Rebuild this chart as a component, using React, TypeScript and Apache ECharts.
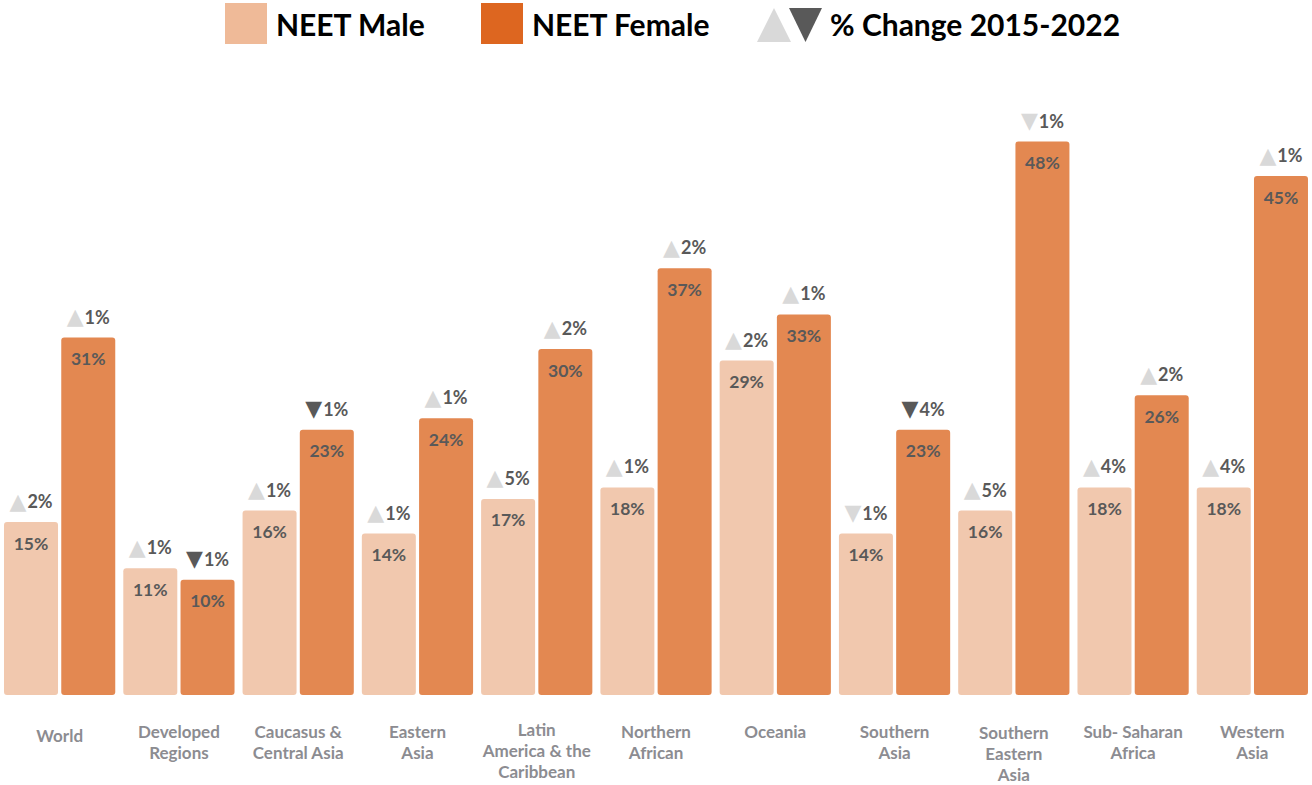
import React, { useEffect, useRef } from "react";
import * as echarts from "echarts";

const categories = [
  "World",
  "Developed\nRegions",
  "Caucasus &\nCentral Asia",
  "Eastern\nAsia",
  "Latin\nAmerica & the\nCaribbean",
  "Northern\nAfrican",
  "Oceania",
  "Southern\nAsia",
  "Southern\nEastern\nAsia",
  "Sub- Saharan\nAfrica",
  "Western\nAsia",
];
const maleValues = [15, 11, 16, 14, 17, 18, 29, 14, 16, 18, 18];
const femaleValues = [31, 10, 23, 24, 30, 37, 33, 23, 48, 26, 45];
const maleChangeDir = ["up", "up", "up", "up", "up", "up", "up", "downLight", "up", "up", "up"];
const maleChangePct = [2, 1, 1, 1, 5, 1, 2, 1, 5, 4, 4];
const femaleChangeDir = ["up", "down", "down", "up", "up", "up", "up", "down", "downLight", "up", "up"];
const femaleChangePct = [1, 1, 1, 1, 2, 2, 1, 4, 1, 2, 1];

const MALE = "#F1C8AE";
const FEMALE = "#E38851";
const LEG_MALE = "#EFBA98";
const LEG_FEMALE = "#DD6620";
const LIGHT = "#D9D9D9";
const DARK = "#595959";
const FONT = "Lato, 'Noto Sans', sans-serif";

// small per-label vertical nudges (px) for the category labels
const labelNudge: Record<string, number> = {
  World: 6,
  "Latin\nAmerica & the\nCaribbean": 0,
  "Southern\nEastern\nAsia": 3,
};

function changeLabel(dirs: string[], pcts: number[]) {
  return {
    show: true,
    position: "top",
    distance: 10,
    formatter: (p: any) => {
      const d = dirs[p.dataIndex];
      const key = d === "up" ? "up" : d === "down" ? "dn" : "dl";
      const glyph = d === "up" ? "▲" : "▼";
      return `{${key}|${glyph}}{v|${pcts[p.dataIndex]}%}`;
    },
    rich: {
      up: { fontFamily: "'DejaVu Sans'", fontSize: 22, color: LIGHT, padding: [0, 1, 0, 0] },
      dn: { fontFamily: "'DejaVu Sans'", fontSize: 22, color: DARK, padding: [0, 1, 0, 0] },
      dl: { fontFamily: "'DejaVu Sans'", fontSize: 22, color: LIGHT, padding: [0, 1, 0, 0] },
      v: { fontFamily: FONT, fontSize: 18, fontWeight: "bold", color: "#595959" },
    },
  };
}

const valueLabel = {
  show: true,
  position: "insideTop",
  distance: 12,
  formatter: "{c}%",
  fontFamily: FONT,
  fontSize: 17.5,
  fontWeight: "bold",
  color: "#595959",
};

export default function App() {
  const ref = useRef<HTMLDivElement>(null);
  useEffect(() => {
    if (!ref.current) return;
    const chart = echarts.init(ref.current, undefined, { renderer: "svg" });
    const zeros = categories.map(() => 0);
    chart.setOption({
      animation: false,
      grid: { left: -1, right: -4, top: 100, bottom: 80, containLabel: false },
      xAxis: {
        type: "category",
        data: categories.map((c) => ({
          value: c,
          textStyle: { padding: [labelNudge[c] ?? 2, 0, 0, 0] },
        })),
        axisLine: { show: false },
        axisTick: { show: false },
        axisLabel: {
          interval: 0,
          margin: 24,
          verticalAlign: "top",
          lineHeight: 21,
          fontFamily: FONT,
          fontSize: 17,
          fontWeight: "bold",
          color: "#8C8C91",
        },
      },
      yAxis: {
        type: "value",
        min: 0,
        max: 51.6,
        show: false,
        splitLine: { show: false },
      },
      series: [
        {
          name: "NEET Male",
          type: "bar",
          stack: "m",
          data: maleValues,
          barWidth: 54,
          barGap: "6%",
          itemStyle: { color: MALE, borderRadius: 3 },
          label: valueLabel,
        },
        {
          name: "NEET Female",
          type: "bar",
          stack: "f",
          data: femaleValues,
          barWidth: 54,
          barGap: "6%",
          itemStyle: { color: FEMALE, borderRadius: 3 },
          label: valueLabel,
        },
        {
          name: "maleChange",
          type: "bar",
          stack: "m",
          data: zeros,
          barWidth: 54,
          barGap: "6%",
          itemStyle: { color: "rgba(0,0,0,0)" },
          label: changeLabel(maleChangeDir, maleChangePct),
        },
        {
          name: "femaleChange",
          type: "bar",
          stack: "f",
          data: zeros,
          barWidth: 54,
          barGap: "6%",
          itemStyle: { color: "rgba(0,0,0,0)" },
          label: changeLabel(femaleChangeDir, femaleChangePct),
        },
      ],
      graphic: [
        { type: "rect", shape: { x: 225, y: 3, width: 42, height: 41 }, style: { fill: LEG_MALE } },
        {
          type: "text",
          x: 276,
          y: 24,
          style: { text: "NEET Male", font: `bold 30px ${FONT}`, fill: "#000", verticalAlign: "middle" },
        },
        { type: "rect", shape: { x: 481, y: 3, width: 42, height: 41 }, style: { fill: LEG_FEMALE } },
        {
          type: "text",
          x: 532,
          y: 24,
          style: { text: "NEET Female", font: `bold 30px ${FONT}`, fill: "#000", verticalAlign: "middle" },
        },
        { type: "polygon", shape: { points: [[757, 42], [774, 8], [791, 42]] }, style: { fill: LIGHT } },
        { type: "polygon", shape: { points: [[789, 8], [822, 8], [805.5, 42]] }, style: { fill: DARK } },
        {
          type: "text",
          x: 830,
          y: 24,
          style: { text: "% Change 2015-2022", font: `bold 30px ${FONT}`, fill: "#000", verticalAlign: "middle" },
        },
      ],
    });
    return () => chart.dispose();
  }, []);
  return (
    <div
      ref={ref}
      style={{ position: "absolute", left: 0, top: 0, width: 1312, height: 785 }}
    />
  );
}
